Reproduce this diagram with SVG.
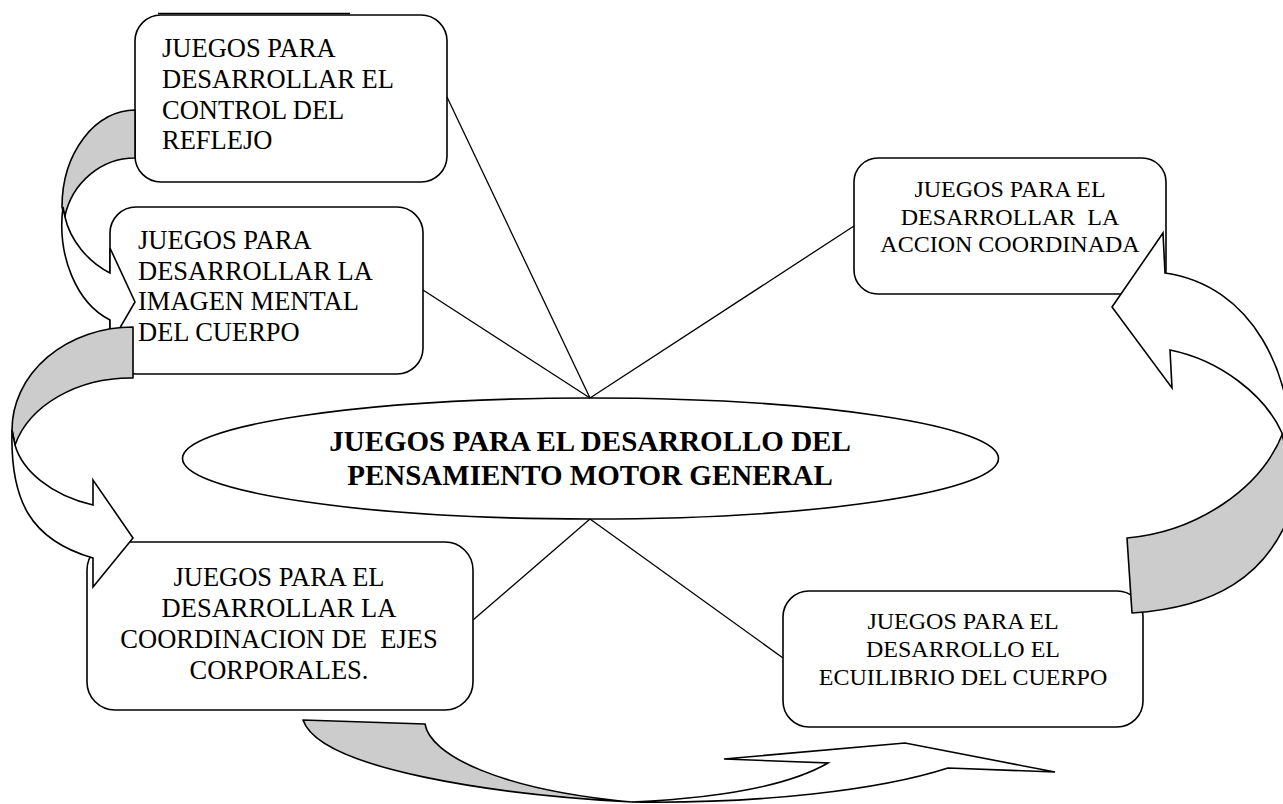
<svg xmlns="http://www.w3.org/2000/svg" width="1283" height="804" viewBox="0 0 1283 804">
<style>
 .box{fill:#fff;stroke:#000;stroke-width:1.6}
 .t{font-family:'Liberation Serif','DejaVu Serif',serif;fill:#000}
 .t26{font-size:26.5px}
 .t24{font-size:24px;text-anchor:middle}
 .c26{font-size:26.5px;text-anchor:middle}
 .title{font-size:29px;font-weight:bold;text-anchor:middle}
 .ln{stroke:#000;stroke-width:1.3;fill:none}
 .back{fill:#cccccc;stroke:#000;stroke-width:1.6;stroke-linejoin:round}
 .front{fill:#fff;stroke:#000;stroke-width:1.6;stroke-linejoin:miter}
</style>
<rect width="1283" height="804" fill="#fff"/>

<g id="node-control-reflejo">
 <line class="ln" x1="158" y1="13.5" x2="350" y2="13.5" stroke-width="1"/>
 <rect class="box" x="135" y="15" width="312" height="167" rx="26"/>
 <text class="t t26" font-family="Liberation Serif, DejaVu Serif, serif"><tspan x="162" y="57">JUEGOS PARA</tspan><tspan x="162" y="88">DESARROLLAR EL</tspan><tspan x="162" y="119">CONTROL DEL</tspan><tspan x="162" y="149">REFLEJO</tspan></text>
</g>

<g id="node-imagen-mental">
 <rect class="box" x="110" y="207" width="313" height="167" rx="26"/>
 <text class="t t26" font-family="Liberation Serif, DejaVu Serif, serif"><tspan x="138" y="249">JUEGOS PARA</tspan><tspan x="138" y="280">DESARROLLAR LA</tspan><tspan x="138" y="310">IMAGEN MENTAL</tspan><tspan x="138" y="341">DEL CUERPO</tspan></text>
</g>

<g id="node-accion-coordinada">
 <rect class="box" x="854" y="158" width="312" height="136" rx="24"/>
 <text class="t t24" font-family="Liberation Serif, DejaVu Serif, serif" xml:space="preserve"><tspan x="1010" y="197">JUEGOS PARA EL</tspan><tspan x="1010" y="224.5">DESARROLLAR  LA</tspan><tspan x="1010" y="252">ACCION COORDINADA</tspan></text>
</g>

<g id="node-ejes-corporales">
 <rect class="box" x="87" y="542" width="386" height="168" rx="28"/>
 <text class="t c26" font-family="Liberation Serif, DejaVu Serif, serif" xml:space="preserve"><tspan x="279" y="585.5">JUEGOS PARA EL</tspan><tspan x="279" y="616.5">DESARROLLAR LA</tspan><tspan x="279" y="647.5">COORDINACION DE  EJES</tspan><tspan x="279" y="678.5">CORPORALES.</tspan></text>
</g>

<g id="node-equilibrio">
 <rect class="box" x="783" y="591" width="360" height="136" rx="26"/>
 <text class="t t24" font-family="Liberation Serif, DejaVu Serif, serif"><tspan x="963" y="628.5">JUEGOS PARA EL</tspan><tspan x="963" y="656.5">DESARROLLO EL</tspan><tspan x="963" y="684.5">ECUILIBRIO DEL CUERPO</tspan></text>
</g>

<g id="node-center">
 <ellipse class="box" cx="590.5" cy="458.5" rx="408" ry="60.5"/>
 <text class="t title" font-family="Liberation Serif, DejaVu Serif, serif"><tspan x="590" y="451">JUEGOS PARA EL DESARROLLO DEL</tspan><tspan x="590" y="485">PENSAMIENTO MOTOR GENERAL</tspan></text>
</g>

<g id="connectors">
 <g id="spokes">
  <line class="ln" x1="447" y1="97" x2="590" y2="398"/>
  <line class="ln" x1="423" y1="290" x2="590" y2="398"/>
  <line class="ln" x1="854" y1="226" x2="590" y2="398"/>
  <line class="ln" x1="590" y1="519" x2="473" y2="620"/>
  <line class="ln" x1="590" y1="519" x2="783" y2="658"/>
 </g>
 <g id="arrow-reflejo-imagen">
  <path class="back" d="M135,110 A73,97 0 0 0 62,207 L64.7,217 A72,75 0 0 1 135,158 Z"/>
  <path class="front" d="M63,207 A73,101 0 0 0 110,320 L110,345 L135,302 L110,248 L110,273 C88,262 70,240 65,217 Z"/>
 </g>
 <g id="arrow-imagen-ejes">
  <path class="back" d="M133,327 A121,103 0 0 0 12,430 L15,445 A120,91 0 0 1 133,378 Z"/>
  <path class="front" d="M12,430 C10,500 30,540 93,558 L93,587 L133,538 L93,480 L93,505 C50,495 22,470 15,445 Z"/>
 </g>
 <g id="arrow-ejes-equilibrio">
  <path class="back" d="M303,720 L425,724 C430,755 500,790 632,802 C500,795 320,770 303,720 Z"/>
  <path class="front" d="M632,802 C760,804 880,790 948,768 L1055,772 L905,743 L724,759 L828,763 C790,785 720,798 632,802 Z"/>
 </g>
 <g id="arrow-equilibrio-accion">
  <path class="back" d="M1127,538 C1195,532 1262,490 1284,430 L1300,440 L1295,500 C1270,580 1210,608 1132,613 Z"/>
  <path class="front" d="M1292,480 C1298,370 1250,285 1165,273 L1163,233 L1112,307 L1172,388 L1170,350 C1220,360 1265,395 1282,433 Z"/>
 </g>
</g>
</svg>
